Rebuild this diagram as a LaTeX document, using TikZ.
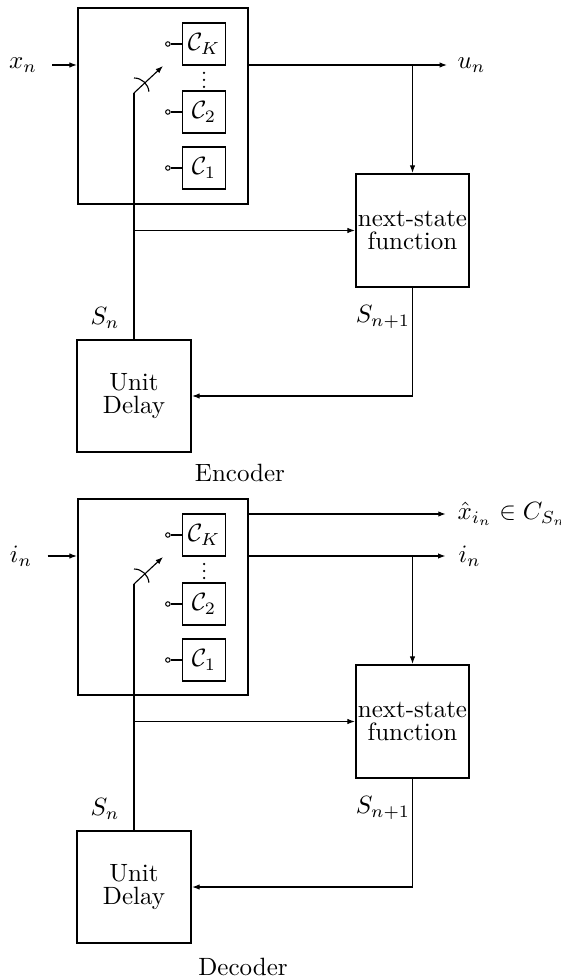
\documentclass[tikz,border=0pt]{standalone}
\usepackage{amsmath}
\usetikzlibrary{arrows.meta,positioning,calc}

\begin{document}
\begin{tikzpicture}[x=0.4pt,y=-0.4pt,>={Latex[length=3pt,width=2.2pt]},
  font={\fontsize{10}{9}\selectfont},
  bigbox/.style={draw=black,line width=0.9pt,minimum width=68pt,minimum height=78.4pt,inner sep=0pt},
  cbox/.style={draw=black,line width=0.5pt,minimum width=17.4pt,minimum height=16.8pt,inner sep=0pt},
  fbox/.style={draw=black,line width=0.9pt,minimum width=45.2pt,minimum height=45.2pt,align=center,inner sep=0.5pt},
  dbox/.style={draw=black,line width=0.9pt,minimum width=45.6pt,minimum height=44.8pt,align=center,inner sep=0.5pt},
  tap/.style={draw=black,circle,line width=0.4pt,inner sep=0pt,minimum size=1.8pt},
  wire/.style={line width=0.45pt},
  lab/.style={inner sep=0pt}]
\useasboundingbox (0,0) rectangle (560,977);
% ---------------- encoder
\node[bigbox] (encbox) at (163,106) {};
\node[cbox] (encK) at (204,44) {$\mathcal{C}_K$};
\node[cbox] (enc2) at (204,112) {$\mathcal{C}_2$};
\node[cbox] (enc1) at (204,168) {$\mathcal{C}_1$};
\foreach \c in {encK,enc2,enc1}
  \draw[wire] (\c.west) -- ++(-11,0) node[tap,anchor=east] (\c-tap) {};
\foreach \y in {73,80,87} \fill (204,\y) circle (0.5pt);
\coordinate (encpiv) at (134,93);
\coordinate (encarm) at (163,66);
\draw[->,wire] (encpiv) -- (encarm);
\draw[wire] ($(encpiv)+(5:6pt)$) arc[start angle=5,end angle=90,radius=6pt];
\node[fbox] (encnext) at (412.5,230.5) {next-state\\function};
\node[dbox] (encdelay) at (134,396) {Unit\\Delay};
\node[lab] (encx) at (23,65) {$x_n$};
\node[lab,anchor=west] (encu) at (457,65) {$u_n$};
\draw[->,wire] ([xshift=6pt]encx.east) -- (encx -| encbox.west);
\draw[->,wire] (encu -| encbox.east) -- ([xshift=-4pt]encu.west);
\coordinate (enctap) at (encu -| encnext.north);
\draw[->,wire] (enctap) -- (encnext.north);
\draw[wire] (encpiv) -- (encdelay.north);
\coordinate (encsplit) at (encpiv |- encnext.west);
\draw[->,wire] (encsplit) -- (encnext.west);
\draw[->,wire] (encnext.south) |- (encdelay.east);
\node[lab] (encS) at (105,318) {$S_n$};
\node[lab] (encSn) at (383,317) {$S_{n+1}$};
\node[lab] (enccap) at (240,473) {Encoder};
% ---------------- decoder
\node[bigbox] (decbox) at (163,597) {};
\node[cbox] (decK) at (204,535) {$\mathcal{C}_K$};
\node[cbox] (dec2) at (204,604) {$\mathcal{C}_2$};
\node[cbox] (dec1) at (204,660) {$\mathcal{C}_1$};
\foreach \c in {decK,dec2,dec1}
  \draw[wire] (\c.west) -- ++(-11,0) node[tap,anchor=east] (\c-tap) {};
\foreach \y in {564,571,578} \fill (204,\y) circle (0.5pt);
\coordinate (decpiv) at (134,584);
\coordinate (decarm) at (163,557);
\draw[->,wire] (decpiv) -- (decarm);
\draw[wire] ($(decpiv)+(5:6pt)$) arc[start angle=5,end angle=90,radius=6pt];
\node[fbox] (decnext) at (412.5,721.5) {next-state\\function};
\node[dbox] (decdelay) at (134,887) {Unit\\Delay};
\node[lab] (deci) at (21,556) {$i_n$};
\node[lab,anchor=west] (decxhat) at (457,514) {$\hat{x}_{i_n}\in C_{S_n}$};
\node[lab,anchor=west] (deco) at (458,556) {$i_n$};
\draw[->,wire] ([xshift=6pt]deci.east) -- (deci -| decbox.west);
\draw[->,wire] (decxhat -| decbox.east) -- ([xshift=-4.5pt]decxhat.west);
\draw[->,wire] (deco -| decbox.east) -- ([xshift=-5pt]deco.west);
\coordinate (dectap) at (deco -| decnext.north);
\draw[->,wire] (dectap) -- (decnext.north);
\draw[wire] (decpiv) -- (decdelay.north);
\coordinate (decsplit) at (decpiv |- decnext.west);
\draw[->,wire] (decsplit) -- (decnext.west);
\draw[->,wire] (decnext.south) |- (decdelay.east);
\node[lab] (decS) at (105,809) {$S_n$};
\node[lab] (decSn) at (383,808) {$S_{n+1}$};
\node[lab] (deccap) at (243,967) {Decoder};
\end{tikzpicture}
\end{document}
